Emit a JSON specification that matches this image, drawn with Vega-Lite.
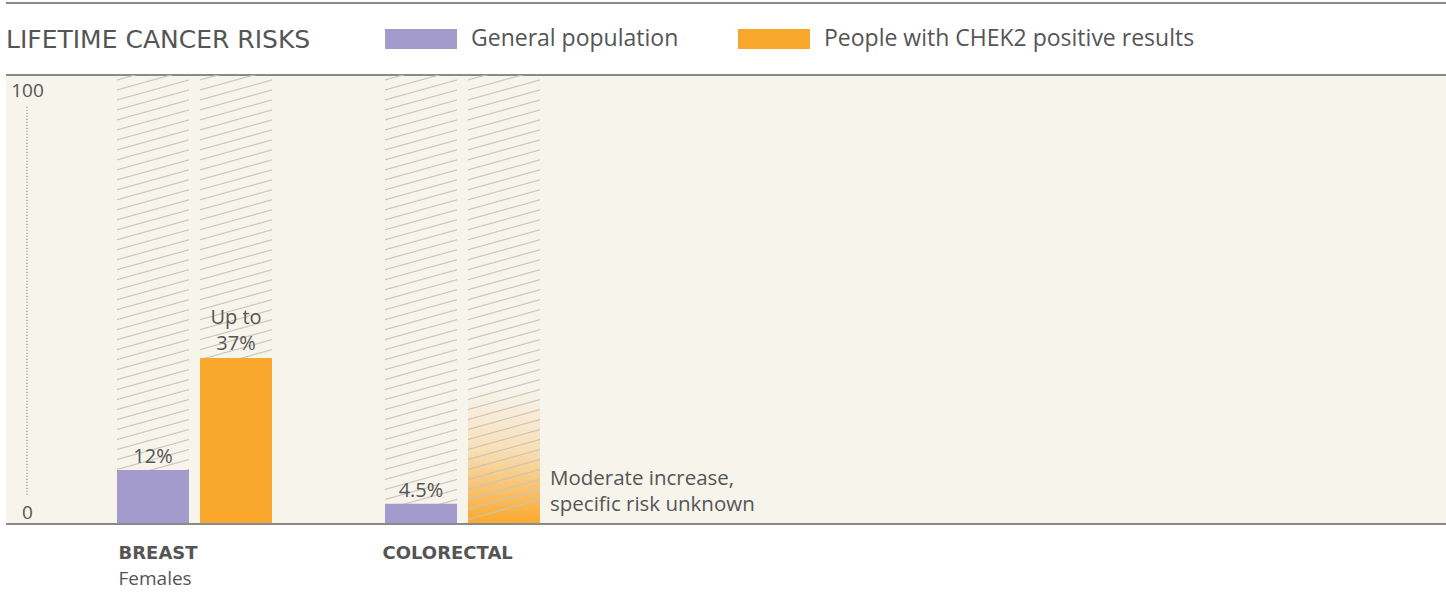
{
  "$schema": "https://vega.github.io/schema/vega-lite/v6.json",
  "width": 1440,
  "height": 521,
  "autosize": {"type": "none"},
  "padding": {"left": 6, "top": 3, "right": 0, "bottom": 78},
  "background": "#ffffff",
  "config": {
    "view": {"stroke": null},
    "font": "Open Sans",
    "text": {"font": "Open Sans", "color": "#555555"},
    "axisY": {"labelFont": "Open Sans", "labelFontSize": 19, "labelColor": "#555555"}
  },
  "title": {
    "text": "LIFETIME CANCER RISKS",
    "anchor": "start",
    "orient": "top",
    "frame": "group",
    "baseline": "alphabetic",
    "offset": 0,
    "dy": 71,
    "font": "DejaVu Sans",
    "fontSize": 25,
    "fontWeight": "normal",
    "color": "#555555"
  },
  "data": {
    "values": [
      {"cancer": "Breast", "series": "General population", "risk": 12, "label": "12%"},
      {"cancer": "Breast", "series": "People with CHEK2 positive results", "risk": 37, "label": "Up to\n37%"},
      {"cancer": "Colorectal", "series": "General population", "risk": 4.5, "label": "4.5%"},
      {"cancer": "Colorectal", "series": "People with CHEK2 positive results", "risk": null, "label": "", "note": "Moderate increase,\nspecific risk unknown"}
    ]
  },
  "resolve": {"axis": {"x": "independent", "y": "independent"}},
  "layer": [
    {
      "data": {"values": [{}]},
      "mark": {"type": "rect", "fill": "#f7f4ec"},
      "encoding": {
        "y": {"datum": 0, "type": "quantitative",
          "scale": {"domain": [0, 116.04], "nice": false, "zero": true},
          "axis": {
            "orient": "left", "title": null, "values": [0, 100], "domain": false, "ticks": false, "tickSize": 0, "grid": false, "zindex": 2,
            "offset": -21, "labelPadding": 0, "labelAlign": "center", "labelBaseline": "middle",
            "labelOffset": {"condition": {"test": "datum.value == 100", "value": 15}, "value": -12},
            "labelFont": "Open Sans", "labelFontSize": 19, "labelColor": "#555555"
          }
        },
        "y2": {"datum": 100}
      }
    },
    {
      "data": {"values": [{}]},
      "mark": {"type": "rule", "stroke": "#8a8a8a", "strokeWidth": 2},
      "encoding": {"y": {"datum": 116.04, "type": "quantitative", "axis": null}}
    },
    {
      "data": {"values": [{}]},
      "mark": {"type": "rule", "stroke": "#8a8a8a", "strokeWidth": 2},
      "encoding": {"y": {"datum": 100, "type": "quantitative", "axis": null}}
    },
    {
      "data": {"values": [{}]},
      "mark": {"type": "rule", "stroke": "#707070", "strokeWidth": 1, "strokeDash": [1, 2]},
      "encoding": {
        "x": {"datum": "Breast", "type": "nominal", "bandPosition": -0.5806, "axis": null},
        "y": {"datum": 6.5, "type": "quantitative", "axis": null},
        "y2": {"datum": 93.3}
      }
    },
    {
      "transform": [{"filter": "datum.note != null"}],
      "mark": {"type": "bar", "fill": {"gradient": "linear", "x1": 0, "y1": 0, "x2": 0, "y2": 1, "stops": [
        {"offset": 0, "color": "rgba(249,168,45,0)"},
        {"offset": 0.45, "color": "rgba(249,168,45,0.28)"},
        {"offset": 1, "color": "rgba(249,168,45,1)"}
      ]}},
      "encoding": {
        "x": {"field": "cancer", "type": "nominal", "axis": null},
        "xOffset": {"field": "series", "type": "nominal"},
        "y": {"datum": 30, "type": "quantitative", "axis": null},
        "y2": {"datum": 0}
      }
    },
    {
      "mark": {"type": "bar", "fill": {"gradient": "linear", "x1": 0, "y1": 0, "x2": 0.0445, "y2": 1, "stops": [
        {"offset": 0.0085, "color": "rgba(200,195,184,0)"}, {"offset": 0.011, "color": "rgba(200,195,184,1)"}, {"offset": 0.0135, "color": "rgba(200,195,184,0)"},
        {"offset": 0.0307, "color": "rgba(200,195,184,0)"}, {"offset": 0.0332, "color": "rgba(200,195,184,1)"}, {"offset": 0.0357, "color": "rgba(200,195,184,0)"},
        {"offset": 0.0529, "color": "rgba(200,195,184,0)"}, {"offset": 0.0554, "color": "rgba(200,195,184,1)"}, {"offset": 0.0579, "color": "rgba(200,195,184,0)"},
        {"offset": 0.0751, "color": "rgba(200,195,184,0)"}, {"offset": 0.0776, "color": "rgba(200,195,184,1)"}, {"offset": 0.0801, "color": "rgba(200,195,184,0)"},
        {"offset": 0.0973, "color": "rgba(200,195,184,0)"}, {"offset": 0.0998, "color": "rgba(200,195,184,1)"}, {"offset": 0.1023, "color": "rgba(200,195,184,0)"},
        {"offset": 0.1195, "color": "rgba(200,195,184,0)"}, {"offset": 0.122, "color": "rgba(200,195,184,1)"}, {"offset": 0.1245, "color": "rgba(200,195,184,0)"},
        {"offset": 0.1417, "color": "rgba(200,195,184,0)"}, {"offset": 0.1442, "color": "rgba(200,195,184,1)"}, {"offset": 0.1467, "color": "rgba(200,195,184,0)"},
        {"offset": 0.1639, "color": "rgba(200,195,184,0)"}, {"offset": 0.1664, "color": "rgba(200,195,184,1)"}, {"offset": 0.1689, "color": "rgba(200,195,184,0)"},
        {"offset": 0.1861, "color": "rgba(200,195,184,0)"}, {"offset": 0.1886, "color": "rgba(200,195,184,1)"}, {"offset": 0.1911, "color": "rgba(200,195,184,0)"},
        {"offset": 0.2083, "color": "rgba(200,195,184,0)"}, {"offset": 0.2108, "color": "rgba(200,195,184,1)"}, {"offset": 0.2133, "color": "rgba(200,195,184,0)"},
        {"offset": 0.2305, "color": "rgba(200,195,184,0)"}, {"offset": 0.233, "color": "rgba(200,195,184,1)"}, {"offset": 0.2355, "color": "rgba(200,195,184,0)"},
        {"offset": 0.2527, "color": "rgba(200,195,184,0)"}, {"offset": 0.2552, "color": "rgba(200,195,184,1)"}, {"offset": 0.2577, "color": "rgba(200,195,184,0)"},
        {"offset": 0.2749, "color": "rgba(200,195,184,0)"}, {"offset": 0.2774, "color": "rgba(200,195,184,1)"}, {"offset": 0.2799, "color": "rgba(200,195,184,0)"},
        {"offset": 0.2971, "color": "rgba(200,195,184,0)"}, {"offset": 0.2996, "color": "rgba(200,195,184,1)"}, {"offset": 0.3021, "color": "rgba(200,195,184,0)"},
        {"offset": 0.3193, "color": "rgba(200,195,184,0)"}, {"offset": 0.3218, "color": "rgba(200,195,184,1)"}, {"offset": 0.3243, "color": "rgba(200,195,184,0)"},
        {"offset": 0.3415, "color": "rgba(200,195,184,0)"}, {"offset": 0.344, "color": "rgba(200,195,184,1)"}, {"offset": 0.3465, "color": "rgba(200,195,184,0)"},
        {"offset": 0.3637, "color": "rgba(200,195,184,0)"}, {"offset": 0.3662, "color": "rgba(200,195,184,1)"}, {"offset": 0.3687, "color": "rgba(200,195,184,0)"},
        {"offset": 0.3859, "color": "rgba(200,195,184,0)"}, {"offset": 0.3884, "color": "rgba(200,195,184,1)"}, {"offset": 0.3909, "color": "rgba(200,195,184,0)"},
        {"offset": 0.4081, "color": "rgba(200,195,184,0)"}, {"offset": 0.4106, "color": "rgba(200,195,184,1)"}, {"offset": 0.4131, "color": "rgba(200,195,184,0)"},
        {"offset": 0.4303, "color": "rgba(200,195,184,0)"}, {"offset": 0.4328, "color": "rgba(200,195,184,1)"}, {"offset": 0.4353, "color": "rgba(200,195,184,0)"},
        {"offset": 0.4525, "color": "rgba(200,195,184,0)"}, {"offset": 0.455, "color": "rgba(200,195,184,1)"}, {"offset": 0.4575, "color": "rgba(200,195,184,0)"},
        {"offset": 0.4747, "color": "rgba(200,195,184,0)"}, {"offset": 0.4772, "color": "rgba(200,195,184,1)"}, {"offset": 0.4797, "color": "rgba(200,195,184,0)"},
        {"offset": 0.4969, "color": "rgba(200,195,184,0)"}, {"offset": 0.4994, "color": "rgba(200,195,184,1)"}, {"offset": 0.5019, "color": "rgba(200,195,184,0)"},
        {"offset": 0.5191, "color": "rgba(200,195,184,0)"}, {"offset": 0.5216, "color": "rgba(200,195,184,1)"}, {"offset": 0.5241, "color": "rgba(200,195,184,0)"},
        {"offset": 0.5413, "color": "rgba(200,195,184,0)"}, {"offset": 0.5438, "color": "rgba(200,195,184,1)"}, {"offset": 0.5463, "color": "rgba(200,195,184,0)"},
        {"offset": 0.5635, "color": "rgba(200,195,184,0)"}, {"offset": 0.566, "color": "rgba(200,195,184,1)"}, {"offset": 0.5685, "color": "rgba(200,195,184,0)"},
        {"offset": 0.5857, "color": "rgba(200,195,184,0)"}, {"offset": 0.5882, "color": "rgba(200,195,184,1)"}, {"offset": 0.5907, "color": "rgba(200,195,184,0)"},
        {"offset": 0.6079, "color": "rgba(200,195,184,0)"}, {"offset": 0.6104, "color": "rgba(200,195,184,1)"}, {"offset": 0.6129, "color": "rgba(200,195,184,0)"},
        {"offset": 0.6301, "color": "rgba(200,195,184,0)"}, {"offset": 0.6326, "color": "rgba(200,195,184,1)"}, {"offset": 0.6351, "color": "rgba(200,195,184,0)"},
        {"offset": 0.6523, "color": "rgba(200,195,184,0)"}, {"offset": 0.6548, "color": "rgba(200,195,184,1)"}, {"offset": 0.6573, "color": "rgba(200,195,184,0)"},
        {"offset": 0.6745, "color": "rgba(200,195,184,0)"}, {"offset": 0.677, "color": "rgba(200,195,184,1)"}, {"offset": 0.6795, "color": "rgba(200,195,184,0)"},
        {"offset": 0.6967, "color": "rgba(200,195,184,0)"}, {"offset": 0.6992, "color": "rgba(200,195,184,1)"}, {"offset": 0.7017, "color": "rgba(200,195,184,0)"},
        {"offset": 0.7189, "color": "rgba(200,195,184,0)"}, {"offset": 0.7214, "color": "rgba(200,195,184,1)"}, {"offset": 0.7239, "color": "rgba(200,195,184,0)"},
        {"offset": 0.7411, "color": "rgba(200,195,184,0)"}, {"offset": 0.7436, "color": "rgba(200,195,184,1)"}, {"offset": 0.7461, "color": "rgba(200,195,184,0)"},
        {"offset": 0.7633, "color": "rgba(200,195,184,0)"}, {"offset": 0.7658, "color": "rgba(200,195,184,1)"}, {"offset": 0.7683, "color": "rgba(200,195,184,0)"},
        {"offset": 0.7855, "color": "rgba(200,195,184,0)"}, {"offset": 0.788, "color": "rgba(200,195,184,1)"}, {"offset": 0.7905, "color": "rgba(200,195,184,0)"},
        {"offset": 0.8077, "color": "rgba(200,195,184,0)"}, {"offset": 0.8102, "color": "rgba(200,195,184,1)"}, {"offset": 0.8127, "color": "rgba(200,195,184,0)"},
        {"offset": 0.8299, "color": "rgba(200,195,184,0)"}, {"offset": 0.8324, "color": "rgba(200,195,184,1)"}, {"offset": 0.8349, "color": "rgba(200,195,184,0)"},
        {"offset": 0.8521, "color": "rgba(200,195,184,0)"}, {"offset": 0.8546, "color": "rgba(200,195,184,1)"}, {"offset": 0.8571, "color": "rgba(200,195,184,0)"},
        {"offset": 0.8743, "color": "rgba(200,195,184,0)"}, {"offset": 0.8768, "color": "rgba(200,195,184,1)"}, {"offset": 0.8793, "color": "rgba(200,195,184,0)"},
        {"offset": 0.8965, "color": "rgba(200,195,184,0)"}, {"offset": 0.899, "color": "rgba(200,195,184,1)"}, {"offset": 0.9015, "color": "rgba(200,195,184,0)"},
        {"offset": 0.9187, "color": "rgba(200,195,184,0)"}, {"offset": 0.9212, "color": "rgba(200,195,184,1)"}, {"offset": 0.9237, "color": "rgba(200,195,184,0)"},
        {"offset": 0.9409, "color": "rgba(200,195,184,0)"}, {"offset": 0.9434, "color": "rgba(200,195,184,1)"}, {"offset": 0.9459, "color": "rgba(200,195,184,0)"},
        {"offset": 0.9631, "color": "rgba(200,195,184,0)"}, {"offset": 0.9656, "color": "rgba(200,195,184,1)"}, {"offset": 0.9681, "color": "rgba(200,195,184,0)"},
        {"offset": 0.9853, "color": "rgba(200,195,184,0)"}, {"offset": 0.9878, "color": "rgba(200,195,184,1)"}, {"offset": 0.9903, "color": "rgba(200,195,184,0)"}
      ]}},
      "encoding": {
        "x": {"field": "cancer", "type": "nominal",
          "axis": {
            "orient": "bottom", "title": null, "offset": 25, "domain": false, "ticks": false, "tickSize": 0,
            "labelAlign": "left", "labelBaseline": "top", "labelPadding": 20, "labelAngle": 0,
            "labelOffset": {"condition": {"test": "datum.value == 'Breast'", "value": -76}, "value": -80},
            "labelExpr": "datum.label == 'Breast' ? 'Females' : ''",
            "labelFont": "Open Sans", "labelFontSize": 19, "labelFontWeight": "normal", "labelColor": "#555555"
          }
        },
        "xOffset": {"field": "series", "type": "nominal"},
        "y": {"datum": 100, "type": "quantitative", "axis": null},
        "y2": {"datum": 0}
      }
    },
    {
      "transform": [{"filter": "datum.risk != null"}],
      "mark": {"type": "bar"},
      "encoding": {
        "x": {"field": "cancer", "type": "nominal",
          "scale": {"domain": ["Breast", "Colorectal"], "range": [111, 534], "paddingInner": 0.4216, "paddingOuter": 0},
          "axis": {
            "orient": "bottom", "title": null, "domain": false, "ticks": false, "tickSize": 0,
            "labelAlign": "left", "labelBaseline": "top", "labelPadding": 20, "labelAngle": 0,
            "labelOffset": {"condition": {"test": "datum.value == 'Breast'", "value": -76}, "value": -80},
            "labelExpr": "upper(datum.label)",
            "labelFont": "DejaVu Sans", "labelFontSize": 18, "labelFontWeight": "bold", "labelColor": "#555555"
          }
        },
        "xOffset": {"field": "series", "type": "nominal",
          "scale": {"domain": ["General population", "People with CHEK2 positive results"], "paddingInner": 0.1325, "paddingOuter": 0}},
        "y": {"field": "risk", "type": "quantitative", "axis": null},
        "color": {"field": "series", "type": "nominal",
          "scale": {"domain": ["General population", "People with CHEK2 positive results"], "range": ["#a29bcb", "#f9a82d"]},
          "legend": {
            "orient": "none", "legendX": 379, "legendY": 0, "direction": "horizontal", "title": null,
            "symbolType": "M-1,-0.2778H1V0.2778H-1Z", "symbolSize": 5184, "symbolStrokeWidth": 0, "symbolOpacity": 1,
            "labelFont": "Open Sans", "labelFontSize": 23, "labelColor": "#555555", "labelOffset": 14, "labelLimit": 600,
            "columnPadding": 59, "padding": 0
          }
        }
      }
    },
    {
      "transform": [{"filter": "datum.risk != null"}],
      "mark": {"type": "text", "baseline": "bottom", "dy": {"expr": "indexof(datum.label, '\\n') >= 0 ? -30 : -3"}, "fontSize": 20, "lineHeight": 26, "lineBreak": "\n", "color": "#555555"},
      "encoding": {
        "x": {"field": "cancer", "type": "nominal", "axis": null},
        "xOffset": {"field": "series", "type": "nominal"},
        "y": {"field": "risk", "type": "quantitative", "axis": null},
        "text": {"field": "label"}
      }
    },
    {
      "transform": [{"filter": "datum.note != null"}],
      "mark": {"type": "text", "align": "left", "baseline": "bottom", "dx": 46, "dy": -35, "fontSize": 20.5, "lineHeight": 26, "lineBreak": "\n", "color": "#555555"},
      "encoding": {
        "x": {"field": "cancer", "type": "nominal", "axis": null},
        "xOffset": {"field": "series", "type": "nominal"},
        "y": {"datum": 0, "type": "quantitative", "axis": null},
        "text": {"field": "note"}
      }
    },
    {
      "data": {"values": [{}]},
      "mark": {"type": "rule", "stroke": "#8a8a8a", "strokeWidth": 2},
      "encoding": {"y": {"datum": 0, "type": "quantitative", "axis": null}}
    }
  ]
}
